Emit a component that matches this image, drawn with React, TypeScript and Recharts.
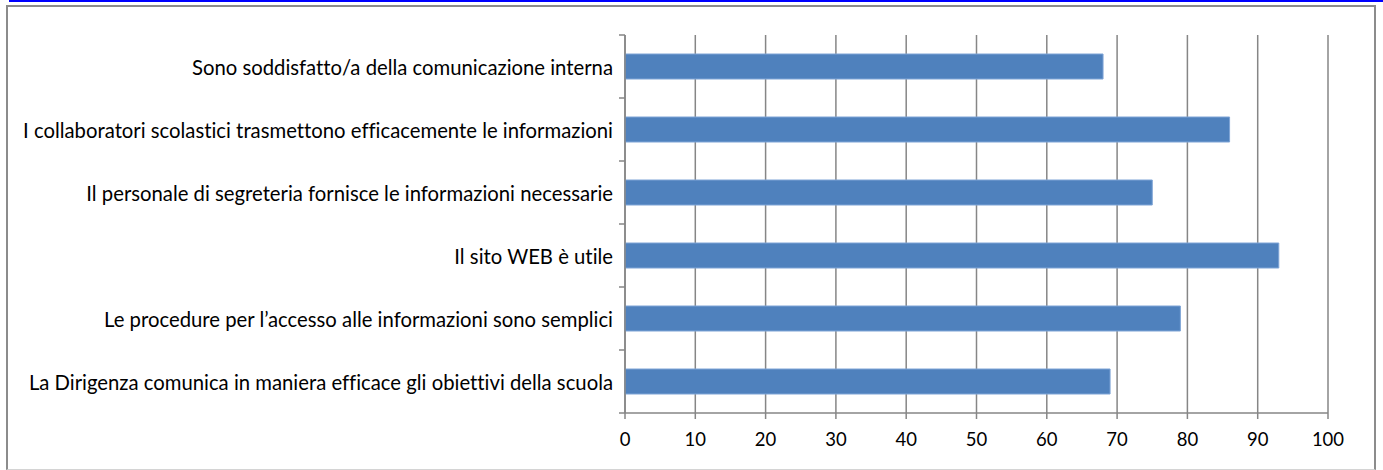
import React from "react";
import { BarChart, Bar, XAxis, YAxis, CartesianGrid } from "recharts";

const categories = [
  "Sono soddisfatto/a della comunicazione interna",
  "I collaboratori scolastici trasmettono efficacemente le informazioni",
  "Il personale di segreteria fornisce le informazioni necessarie",
  "Il sito WEB è utile",
  "Le procedure per l’accesso alle informazioni sono semplici",
  "La Dirigenza comunica in maniera efficace gli obiettivi della scuola",
];
const values = [68, 86, 75, 93, 79, 69];
const xTicks = [0, 10, 20, 30, 40, 50, 60, 70, 80, 90, 100];

const W = 1383;
const H = 470;
const PLOT_TOP = 35;
const PLOT_BOTTOM = 413;
const BAND = (PLOT_BOTTOM - PLOT_TOP) / categories.length;
const FONT = "Lato, 'Liberation Sans', sans-serif";
const AXIS = "#868686";

const data = categories.map((name, i) => ({ name, value: values[i] }));

// labels at band centre, tick marks at band edges like Excel
function CatTick(props: any) {
  const { x, y, payload, index } = props;
  const axisX = x + 8;
  return (
    <g>
      <line x1={axisX - 6} x2={axisX} y1={y - BAND / 2} y2={y - BAND / 2} stroke={AXIS} strokeWidth={1.5} />
      {index === categories.length - 1 && (
        <line x1={axisX - 6} x2={axisX} y1={y + BAND / 2} y2={y + BAND / 2} stroke={AXIS} strokeWidth={1.5} />
      )}
      <text
        x={x - 4}
        y={y + 1}
        dy="0.35em"
        textAnchor="end"
        fill="#000"
        fontSize={20.3}
        fontFamily={FONT}
        style={{ fontVariantLigatures: "none" }}
      >
        {payload.value}
      </text>
    </g>
  );
}

export default function App() {
  return (
    <div style={{ position: "absolute", left: 0, top: 0, width: W, height: H, background: "#fff" }}>
      <div style={{ position: "absolute", left: 9, top: 0, width: W - 9, height: 2, background: "#0000ff" }} />
      <div
        style={{
          position: "absolute",
          left: 6,
          top: 5,
          width: 1366,
          height: 462,
          borderLeft: "2px solid #8c8c8c",
          borderTop: "2px solid #8c8c8c",
          borderRight: "2px solid #8c8c8c",
          borderBottom: "1px solid #d4d4d4",
        }}
      />
      <div style={{ position: "absolute", left: 0, top: 0 }}>
        <BarChart
          width={W}
          height={H}
          data={data}
          layout="vertical"
          margin={{ top: PLOT_TOP, right: W - 1328, bottom: 27, left: 0 }}
          barCategoryGap={0}
        >
          <CartesianGrid horizontal={false} vertical stroke={AXIS} strokeWidth={1.5} />
          <XAxis
            type="number"
            domain={[0, 100]}
            ticks={xTicks}
            interval={0}
            height={30}
            tickSize={6}
            tickMargin={14}
            stroke={AXIS}
            strokeWidth={1.5}
            tick={{ fill: "#000", fontSize: 18.5, fontFamily: FONT }}
          />
          <YAxis
            type="category"
            dataKey="name"
            width={625}
            tickLine={false}
            stroke={AXIS}
            strokeWidth={1.5}
            interval={0}
            tick={<CatTick />}
          />
          <Bar
            dataKey="value"
            fill="#4f81bd"
            stroke="#7ea4d6"
            strokeWidth={1}
            barSize={25}
            isAnimationActive={false}
          />
        </BarChart>
      </div>
    </div>
  );
}
